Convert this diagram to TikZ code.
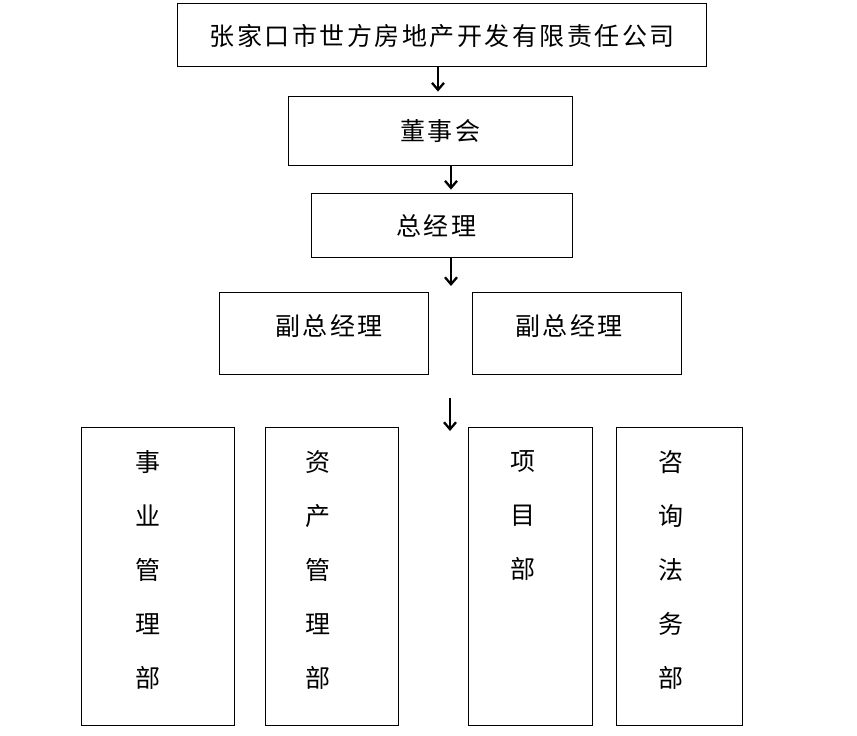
\documentclass[tikz,border=0pt]{standalone}
\usepackage{fontspec}
\newfontfamily\cjk[LetterSpace=10]{Noto Sans CJK SC}
\usetikzlibrary{arrows.meta}

\begin{document}
\begin{tikzpicture}[x=1pt,y=-1pt,
  box/.style={draw,line width=0.8pt,inner sep=0pt},
  lbl/.style={font=\cjk\fontsize{25}{54}\selectfont,inner sep=0pt,align=center},
  arr/.style={line width=2.3pt,-{Straight Barb[length=7pt,width=12pt]}}]

\useasboundingbox (0,0) rectangle (857,736);

% Company
\node[box,minimum width=529pt,minimum height=63pt] (company) at (441.5,34.5) {};
\node[lbl] (companytxt) at (442,36) {张家口市世方房地产开发有限责任公司};

% Board
\node[box,minimum width=284pt,minimum height=69pt] (board) at (430,130.5) {};
\node[lbl] (boardtxt) at (440,131) {董事会};

% General manager
\node[box,minimum width=261pt,minimum height=64pt] (gm) at (441.5,225) {};
\node[lbl] (gmtxt) at (436,226) {总经理};

% Deputy general managers
\node[box,minimum width=209pt,minimum height=82pt] (vpa) at (323.5,333) {};
\node[lbl] (vpatxt) at (329,326) {副总经理};
\node[box,minimum width=209pt,minimum height=82pt] (vpb) at (576.5,333) {};
\node[lbl] (vpbtxt) at (569,326) {副总经理};

% Departments
\node[box,minimum width=153pt,minimum height=298pt] (depa) at (157.5,576) {};
\node[lbl] (depatxt) at (148,570) {事\\业\\管\\理\\部};
\node[box,minimum width=133pt,minimum height=298pt] (depb) at (331.5,576) {};
\node[lbl] (depbtxt) at (318,570) {资\\产\\管\\理\\部};
\node[box,minimum width=124pt,minimum height=298pt] (depc) at (530,576) {};
\node[lbl] (depctxt) at (523,516) {项\\目\\部};
\node[box,minimum width=126pt,minimum height=298pt] (depd) at (679,576) {};
\node[lbl] (depdtxt) at (671,570) {咨\\询\\法\\务\\部};

% Arrows
\coordinate (gmend) at (451,286);
\coordinate (deptop) at (450,398);
\coordinate (deptip) at (450,431);
\draw[arr] ([xshift=-3.5pt]company.south) -- ([xshift=8pt,yshift=4pt]board.north);
\draw[arr] ([xshift=21pt]board.south) -- ([xshift=9.5pt,yshift=3pt]gm.north);
\draw[arr] ([xshift=9.5pt]gm.south) -- (gmend);
\draw[arr] (deptop) -- (deptip);

\end{tikzpicture}
\end{document}
